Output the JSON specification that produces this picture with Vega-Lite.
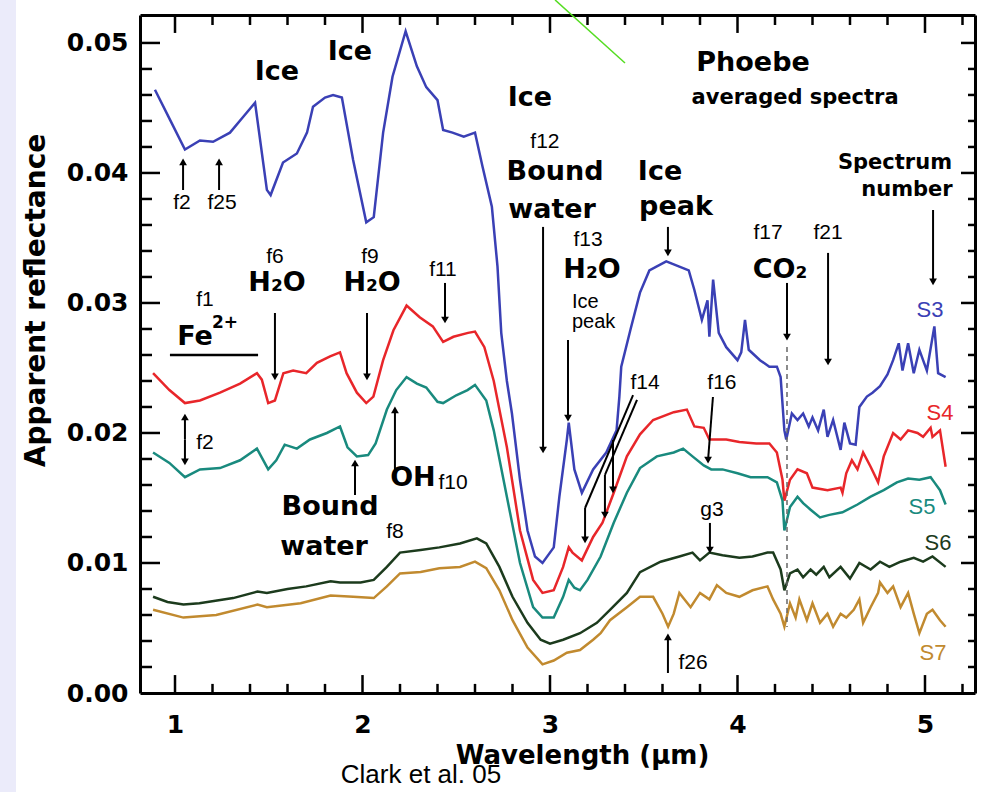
{
"$schema": "https://vega.github.io/schema/vega-lite/v6.json",
"width": 835, "height": 678,
"autosize": "none",
"padding": {"left": 140, "top": 15, "right": 6, "bottom": 99},
"background": "white",
"config": {"view": {"stroke": null}, "axis": {"grid": false, "domainColor": "black", "tickColor": "black", "labelColor": "black", "titleColor": "black", "domainWidth": 3}},
"datasets": {
"spec": [
{"s":"S3","w":0.893,"r":0.0464},{"s":"S3","w":0.973,"r":0.0441},{"s":"S3","w":1.053,"r":0.0418},{"s":"S3","w":1.133,"r":0.0425},{"s":"S3","w":1.203,"r":0.0424},{"s":"S3","w":1.293,"r":0.0431},{"s":"S3","w":1.363,"r":0.0443},{"s":"S3","w":1.427,"r":0.0454},{"s":"S3","w":1.49,"r":0.0387},{"s":"S3","w":1.51,"r":0.0383},{"s":"S3","w":1.576,"r":0.0408},{"s":"S3","w":1.65,"r":0.0415},{"s":"S3","w":1.704,"r":0.0431},{"s":"S3","w":1.736,"r":0.0451},{"s":"S3","w":1.8,"r":0.0458},{"s":"S3","w":1.843,"r":0.046},{"s":"S3","w":1.89,"r":0.0458},{"s":"S3","w":1.95,"r":0.041},{"s":"S3","w":2.02,"r":0.0362},{"s":"S3","w":2.06,"r":0.0366},{"s":"S3","w":2.11,"r":0.0431},{"s":"S3","w":2.16,"r":0.0474},{"s":"S3","w":2.23,"r":0.0509},{"s":"S3","w":2.29,"r":0.0482},{"s":"S3","w":2.34,"r":0.0466},{"s":"S3","w":2.4,"r":0.0456},{"s":"S3","w":2.43,"r":0.0433},{"s":"S3","w":2.48,"r":0.0431},{"s":"S3","w":2.54,"r":0.0428},{"s":"S3","w":2.6,"r":0.0431},{"s":"S3","w":2.64,"r":0.0405},{"s":"S3","w":2.69,"r":0.0374},{"s":"S3","w":2.72,"r":0.0328},{"s":"S3","w":2.74,"r":0.0277},{"s":"S3","w":2.77,"r":0.024},{"s":"S3","w":2.797,"r":0.0215},{"s":"S3","w":2.84,"r":0.0164},{"s":"S3","w":2.88,"r":0.0125},{"s":"S3","w":2.92,"r":0.0105},{"s":"S3","w":2.96,"r":0.01},{"s":"S3","w":3.02,"r":0.0112},{"s":"S3","w":3.05,"r":0.0151},{"s":"S3","w":3.09,"r":0.0195},{"s":"S3","w":3.1,"r":0.0208},{"s":"S3","w":3.13,"r":0.0172},{"s":"S3","w":3.17,"r":0.0154},{"s":"S3","w":3.23,"r":0.0172},{"s":"S3","w":3.3,"r":0.0185},{"s":"S3","w":3.355,"r":0.0202},{"s":"S3","w":3.37,"r":0.0228},{"s":"S3","w":3.38,"r":0.0251},{"s":"S3","w":3.43,"r":0.028},{"s":"S3","w":3.48,"r":0.0308},{"s":"S3","w":3.53,"r":0.0325},{"s":"S3","w":3.62,"r":0.0332},{"s":"S3","w":3.69,"r":0.0328},{"s":"S3","w":3.74,"r":0.0325},{"s":"S3","w":3.77,"r":0.031},{"s":"S3","w":3.81,"r":0.0287},{"s":"S3","w":3.84,"r":0.0302},{"s":"S3","w":3.85,"r":0.0274},{"s":"S3","w":3.87,"r":0.0318},{"s":"S3","w":3.9,"r":0.0277},{"s":"S3","w":3.94,"r":0.0266},{"s":"S3","w":4.0,"r":0.0256},{"s":"S3","w":4.02,"r":0.0262},{"s":"S3","w":4.04,"r":0.0287},{"s":"S3","w":4.06,"r":0.0264},{"s":"S3","w":4.12,"r":0.0256},{"s":"S3","w":4.17,"r":0.0251},{"s":"S3","w":4.21,"r":0.0251},{"s":"S3","w":4.23,"r":0.0243},{"s":"S3","w":4.25,"r":0.0202},{"s":"S3","w":4.26,"r":0.0195},{"s":"S3","w":4.29,"r":0.0215},{"s":"S3","w":4.32,"r":0.021},{"s":"S3","w":4.35,"r":0.0215},{"s":"S3","w":4.38,"r":0.0205},{"s":"S3","w":4.4,"r":0.0212},{"s":"S3","w":4.43,"r":0.0202},{"s":"S3","w":4.46,"r":0.0218},{"s":"S3","w":4.48,"r":0.0197},{"s":"S3","w":4.51,"r":0.021},{"s":"S3","w":4.55,"r":0.0187},{"s":"S3","w":4.57,"r":0.0208},{"s":"S3","w":4.6,"r":0.0192},{"s":"S3","w":4.63,"r":0.0191},{"s":"S3","w":4.65,"r":0.022},{"s":"S3","w":4.69,"r":0.0228},{"s":"S3","w":4.72,"r":0.0231},{"s":"S3","w":4.76,"r":0.0236},{"s":"S3","w":4.8,"r":0.0245},{"s":"S3","w":4.83,"r":0.0256},{"s":"S3","w":4.86,"r":0.0269},{"s":"S3","w":4.88,"r":0.0248},{"s":"S3","w":4.91,"r":0.0269},{"s":"S3","w":4.94,"r":0.0246},{"s":"S3","w":4.97,"r":0.0264},{"s":"S3","w":5.01,"r":0.0248},{"s":"S3","w":5.05,"r":0.0282},{"s":"S3","w":5.07,"r":0.0246},{"s":"S3","w":5.11,"r":0.0243},
{"s":"S4","w":0.883,"r":0.0246},{"s":"S4","w":0.97,"r":0.0233},{"s":"S4","w":1.053,"r":0.0223},{"s":"S4","w":1.133,"r":0.0225},{"s":"S4","w":1.24,"r":0.0231},{"s":"S4","w":1.347,"r":0.0238},{"s":"S4","w":1.437,"r":0.0246},{"s":"S4","w":1.463,"r":0.0241},{"s":"S4","w":1.497,"r":0.0223},{"s":"S4","w":1.533,"r":0.0225},{"s":"S4","w":1.578,"r":0.0246},{"s":"S4","w":1.63,"r":0.0248},{"s":"S4","w":1.7,"r":0.0246},{"s":"S4","w":1.757,"r":0.0254},{"s":"S4","w":1.827,"r":0.0259},{"s":"S4","w":1.88,"r":0.0262},{"s":"S4","w":1.915,"r":0.0246},{"s":"S4","w":1.97,"r":0.0231},{"s":"S4","w":2.02,"r":0.0223},{"s":"S4","w":2.058,"r":0.0228},{"s":"S4","w":2.11,"r":0.0256},{"s":"S4","w":2.165,"r":0.0279},{"s":"S4","w":2.235,"r":0.0298},{"s":"S4","w":2.305,"r":0.0289},{"s":"S4","w":2.375,"r":0.0282},{"s":"S4","w":2.43,"r":0.027},{"s":"S4","w":2.485,"r":0.0274},{"s":"S4","w":2.563,"r":0.0277},{"s":"S4","w":2.6,"r":0.0278},{"s":"S4","w":2.65,"r":0.0266},{"s":"S4","w":2.7,"r":0.024},{"s":"S4","w":2.77,"r":0.0189},{"s":"S4","w":2.84,"r":0.0125},{"s":"S4","w":2.91,"r":0.0087},{"s":"S4","w":2.96,"r":0.0077},{"s":"S4","w":3.02,"r":0.0079},{"s":"S4","w":3.07,"r":0.0097},{"s":"S4","w":3.1,"r":0.0112},{"s":"S4","w":3.12,"r":0.0108},{"s":"S4","w":3.17,"r":0.0102},{"s":"S4","w":3.23,"r":0.012},{"s":"S4","w":3.28,"r":0.0131},{"s":"S4","w":3.34,"r":0.0154},{"s":"S4","w":3.41,"r":0.0182},{"s":"S4","w":3.48,"r":0.0199},{"s":"S4","w":3.55,"r":0.021},{"s":"S4","w":3.66,"r":0.0216},{"s":"S4","w":3.73,"r":0.0218},{"s":"S4","w":3.77,"r":0.0205},{"s":"S4","w":3.82,"r":0.0204},{"s":"S4","w":3.85,"r":0.0195},{"s":"S4","w":3.94,"r":0.0195},{"s":"S4","w":4.01,"r":0.0193},{"s":"S4","w":4.1,"r":0.0192},{"s":"S4","w":4.17,"r":0.0192},{"s":"S4","w":4.21,"r":0.0185},{"s":"S4","w":4.24,"r":0.0164},{"s":"S4","w":4.25,"r":0.0148},{"s":"S4","w":4.28,"r":0.0164},{"s":"S4","w":4.32,"r":0.0172},{"s":"S4","w":4.37,"r":0.0169},{"s":"S4","w":4.4,"r":0.0158},{"s":"S4","w":4.48,"r":0.0156},{"s":"S4","w":4.55,"r":0.0158},{"s":"S4","w":4.56,"r":0.0154},{"s":"S4","w":4.58,"r":0.0169},{"s":"S4","w":4.61,"r":0.0179},{"s":"S4","w":4.64,"r":0.0172},{"s":"S4","w":4.67,"r":0.0185},{"s":"S4","w":4.71,"r":0.0174},{"s":"S4","w":4.75,"r":0.0162},{"s":"S4","w":4.78,"r":0.0182},{"s":"S4","w":4.83,"r":0.02},{"s":"S4","w":4.87,"r":0.0195},{"s":"S4","w":4.91,"r":0.0202},{"s":"S4","w":4.96,"r":0.02},{"s":"S4","w":4.99,"r":0.0197},{"s":"S4","w":5.03,"r":0.0204},{"s":"S4","w":5.04,"r":0.0197},{"s":"S4","w":5.08,"r":0.0202},{"s":"S4","w":5.11,"r":0.0174},
{"s":"S5","w":0.883,"r":0.0185},{"s":"S5","w":0.97,"r":0.0177},{"s":"S5","w":1.053,"r":0.0166},{"s":"S5","w":1.133,"r":0.0172},{"s":"S5","w":1.24,"r":0.0173},{"s":"S5","w":1.347,"r":0.0179},{"s":"S5","w":1.437,"r":0.0188},{"s":"S5","w":1.497,"r":0.0172},{"s":"S5","w":1.54,"r":0.0179},{"s":"S5","w":1.585,"r":0.0191},{"s":"S5","w":1.65,"r":0.0188},{"s":"S5","w":1.72,"r":0.0195},{"s":"S5","w":1.81,"r":0.02},{"s":"S5","w":1.88,"r":0.0205},{"s":"S5","w":1.92,"r":0.0189},{"s":"S5","w":1.97,"r":0.0182},{"s":"S5","w":2.03,"r":0.0183},{"s":"S5","w":2.07,"r":0.0192},{"s":"S5","w":2.13,"r":0.0218},{"s":"S5","w":2.18,"r":0.0233},{"s":"S5","w":2.235,"r":0.0243},{"s":"S5","w":2.29,"r":0.0238},{"s":"S5","w":2.34,"r":0.0235},{"s":"S5","w":2.4,"r":0.0224},{"s":"S5","w":2.43,"r":0.0223},{"s":"S5","w":2.5,"r":0.0229},{"s":"S5","w":2.56,"r":0.0233},{"s":"S5","w":2.6,"r":0.0237},{"s":"S5","w":2.66,"r":0.0225},{"s":"S5","w":2.7,"r":0.0202},{"s":"S5","w":2.77,"r":0.0151},{"s":"S5","w":2.84,"r":0.01},{"s":"S5","w":2.91,"r":0.0066},{"s":"S5","w":2.96,"r":0.0058},{"s":"S5","w":3.02,"r":0.0058},{"s":"S5","w":3.07,"r":0.0074},{"s":"S5","w":3.1,"r":0.0087},{"s":"S5","w":3.13,"r":0.0081},{"s":"S5","w":3.16,"r":0.0079},{"s":"S5","w":3.2,"r":0.0087},{"s":"S5","w":3.27,"r":0.0105},{"s":"S5","w":3.34,"r":0.0131},{"s":"S5","w":3.41,"r":0.0154},{"s":"S5","w":3.48,"r":0.0173},{"s":"S5","w":3.57,"r":0.0182},{"s":"S5","w":3.66,"r":0.0185},{"s":"S5","w":3.71,"r":0.0188},{"s":"S5","w":3.76,"r":0.0182},{"s":"S5","w":3.82,"r":0.0175},{"s":"S5","w":3.86,"r":0.0172},{"s":"S5","w":3.92,"r":0.0172},{"s":"S5","w":4.0,"r":0.0169},{"s":"S5","w":4.07,"r":0.0166},{"s":"S5","w":4.16,"r":0.0166},{"s":"S5","w":4.21,"r":0.0162},{"s":"S5","w":4.24,"r":0.0148},{"s":"S5","w":4.25,"r":0.0125},{"s":"S5","w":4.28,"r":0.0143},{"s":"S5","w":4.32,"r":0.0151},{"s":"S5","w":4.35,"r":0.0146},{"s":"S5","w":4.39,"r":0.0141},{"s":"S5","w":4.44,"r":0.0135},{"s":"S5","w":4.49,"r":0.0137},{"s":"S5","w":4.56,"r":0.0139},{"s":"S5","w":4.64,"r":0.0145},{"s":"S5","w":4.71,"r":0.0151},{"s":"S5","w":4.78,"r":0.0156},{"s":"S5","w":4.85,"r":0.0162},{"s":"S5","w":4.91,"r":0.0165},{"s":"S5","w":4.97,"r":0.0164},{"s":"S5","w":5.03,"r":0.0166},{"s":"S5","w":5.05,"r":0.0162},{"s":"S5","w":5.08,"r":0.0156},{"s":"S5","w":5.11,"r":0.0145},
{"s":"S6","w":0.883,"r":0.0074},{"s":"S6","w":0.96,"r":0.007},{"s":"S6","w":1.045,"r":0.0068},{"s":"S6","w":1.13,"r":0.0069},{"s":"S6","w":1.31,"r":0.0073},{"s":"S6","w":1.44,"r":0.0078},{"s":"S6","w":1.49,"r":0.0077},{"s":"S6","w":1.6,"r":0.008},{"s":"S6","w":1.7,"r":0.0082},{"s":"S6","w":1.83,"r":0.0086},{"s":"S6","w":1.88,"r":0.0085},{"s":"S6","w":1.99,"r":0.0085},{"s":"S6","w":2.06,"r":0.0087},{"s":"S6","w":2.13,"r":0.0097},{"s":"S6","w":2.2,"r":0.0108},{"s":"S6","w":2.31,"r":0.011},{"s":"S6","w":2.41,"r":0.0112},{"s":"S6","w":2.52,"r":0.0115},{"s":"S6","w":2.61,"r":0.0119},{"s":"S6","w":2.66,"r":0.0115},{"s":"S6","w":2.73,"r":0.0097},{"s":"S6","w":2.8,"r":0.0074},{"s":"S6","w":2.88,"r":0.0054},{"s":"S6","w":2.95,"r":0.0041},{"s":"S6","w":3.0,"r":0.0038},{"s":"S6","w":3.07,"r":0.0041},{"s":"S6","w":3.16,"r":0.0046},{"s":"S6","w":3.25,"r":0.0054},{"s":"S6","w":3.32,"r":0.0064},{"s":"S6","w":3.41,"r":0.0077},{"s":"S6","w":3.48,"r":0.0093},{"s":"S6","w":3.59,"r":0.0101},{"s":"S6","w":3.69,"r":0.0105},{"s":"S6","w":3.76,"r":0.0108},{"s":"S6","w":3.8,"r":0.0102},{"s":"S6","w":3.85,"r":0.0108},{"s":"S6","w":3.92,"r":0.0106},{"s":"S6","w":4.01,"r":0.0104},{"s":"S6","w":4.08,"r":0.0105},{"s":"S6","w":4.16,"r":0.0108},{"s":"S6","w":4.19,"r":0.0108},{"s":"S6","w":4.23,"r":0.0095},{"s":"S6","w":4.25,"r":0.0079},{"s":"S6","w":4.28,"r":0.0092},{"s":"S6","w":4.32,"r":0.0095},{"s":"S6","w":4.35,"r":0.0089},{"s":"S6","w":4.39,"r":0.0095},{"s":"S6","w":4.42,"r":0.0091},{"s":"S6","w":4.46,"r":0.0097},{"s":"S6","w":4.49,"r":0.0089},{"s":"S6","w":4.55,"r":0.0097},{"s":"S6","w":4.6,"r":0.0088},{"s":"S6","w":4.65,"r":0.01},{"s":"S6","w":4.71,"r":0.0095},{"s":"S6","w":4.76,"r":0.0101},{"s":"S6","w":4.81,"r":0.0097},{"s":"S6","w":4.87,"r":0.0101},{"s":"S6","w":4.94,"r":0.0104},{"s":"S6","w":4.99,"r":0.0101},{"s":"S6","w":5.04,"r":0.0105},{"s":"S6","w":5.11,"r":0.0097},
{"s":"S7","w":0.883,"r":0.0064},{"s":"S7","w":1.045,"r":0.0058},{"s":"S7","w":1.22,"r":0.006},{"s":"S7","w":1.44,"r":0.0068},{"s":"S7","w":1.49,"r":0.0066},{"s":"S7","w":1.67,"r":0.0069},{"s":"S7","w":1.83,"r":0.0075},{"s":"S7","w":1.95,"r":0.0074},{"s":"S7","w":2.06,"r":0.0073},{"s":"S7","w":2.13,"r":0.0082},{"s":"S7","w":2.2,"r":0.0092},{"s":"S7","w":2.31,"r":0.0093},{"s":"S7","w":2.41,"r":0.0096},{"s":"S7","w":2.52,"r":0.0097},{"s":"S7","w":2.6,"r":0.0101},{"s":"S7","w":2.66,"r":0.0096},{"s":"S7","w":2.73,"r":0.0079},{"s":"S7","w":2.8,"r":0.0056},{"s":"S7","w":2.88,"r":0.0035},{"s":"S7","w":2.96,"r":0.0022},{"s":"S7","w":3.02,"r":0.0025},{"s":"S7","w":3.09,"r":0.0031},{"s":"S7","w":3.16,"r":0.0033},{"s":"S7","w":3.23,"r":0.0041},{"s":"S7","w":3.27,"r":0.0046},{"s":"S7","w":3.32,"r":0.0056},{"s":"S7","w":3.41,"r":0.0066},{"s":"S7","w":3.48,"r":0.0074},{"s":"S7","w":3.55,"r":0.0074},{"s":"S7","w":3.6,"r":0.0061},{"s":"S7","w":3.63,"r":0.0051},{"s":"S7","w":3.66,"r":0.0061},{"s":"S7","w":3.69,"r":0.0077},{"s":"S7","w":3.75,"r":0.0066},{"s":"S7","w":3.8,"r":0.0077},{"s":"S7","w":3.85,"r":0.0072},{"s":"S7","w":3.89,"r":0.0083},{"s":"S7","w":3.94,"r":0.0077},{"s":"S7","w":4.01,"r":0.0074},{"s":"S7","w":4.08,"r":0.0079},{"s":"S7","w":4.16,"r":0.0082},{"s":"S7","w":4.19,"r":0.0072},{"s":"S7","w":4.23,"r":0.0061},{"s":"S7","w":4.25,"r":0.0051},{"s":"S7","w":4.28,"r":0.0069},{"s":"S7","w":4.31,"r":0.0058},{"s":"S7","w":4.33,"r":0.0072},{"s":"S7","w":4.37,"r":0.0056},{"s":"S7","w":4.4,"r":0.0069},{"s":"S7","w":4.44,"r":0.0054},{"s":"S7","w":4.48,"r":0.0061},{"s":"S7","w":4.51,"r":0.0051},{"s":"S7","w":4.55,"r":0.0061},{"s":"S7","w":4.58,"r":0.0058},{"s":"S7","w":4.62,"r":0.0064},{"s":"S7","w":4.65,"r":0.0072},{"s":"S7","w":4.67,"r":0.0054},{"s":"S7","w":4.71,"r":0.0066},{"s":"S7","w":4.75,"r":0.0077},{"s":"S7","w":4.76,"r":0.0085},{"s":"S7","w":4.8,"r":0.0077},{"s":"S7","w":4.83,"r":0.0082},{"s":"S7","w":4.87,"r":0.0066},{"s":"S7","w":4.91,"r":0.0077},{"s":"S7","w":4.94,"r":0.0061},{"s":"S7","w":4.97,"r":0.0046},{"s":"S7","w":5.01,"r":0.0061},{"s":"S7","w":5.04,"r":0.0064},{"s":"S7","w":5.08,"r":0.0056},{"s":"S7","w":5.11,"r":0.0051}
],
"ticks": [
{"x":1,"y":0,"x2":1,"y2":0.00138},{"x":2,"y":0,"x2":2,"y2":0.00138},{"x":3,"y":0,"x2":3,"y2":0.00138},{"x":4,"y":0,"x2":4,"y2":0.00138},{"x":5,"y":0,"x2":5,"y2":0.00138},
{"x":1.2,"y":0,"x2":1.2,"y2":0.0007},{"x":1.4,"y":0,"x2":1.4,"y2":0.0007},{"x":1.6,"y":0,"x2":1.6,"y2":0.0007},{"x":1.8,"y":0,"x2":1.8,"y2":0.0007},{"x":2.2,"y":0,"x2":2.2,"y2":0.0007},{"x":2.4,"y":0,"x2":2.4,"y2":0.0007},{"x":2.6,"y":0,"x2":2.6,"y2":0.0007},{"x":2.8,"y":0,"x2":2.8,"y2":0.0007},{"x":3.2,"y":0,"x2":3.2,"y2":0.0007},{"x":3.4,"y":0,"x2":3.4,"y2":0.0007},{"x":3.6,"y":0,"x2":3.6,"y2":0.0007},{"x":3.8,"y":0,"x2":3.8,"y2":0.0007},{"x":4.2,"y":0,"x2":4.2,"y2":0.0007},{"x":4.4,"y":0,"x2":4.4,"y2":0.0007},{"x":4.6,"y":0,"x2":4.6,"y2":0.0007},{"x":4.8,"y":0,"x2":4.8,"y2":0.0007},{"x":5.2,"y":0,"x2":5.2,"y2":0.0007},
{"x":1,"y":0.05215,"x2":1,"y2":0.05077},{"x":2,"y":0.05215,"x2":2,"y2":0.05077},{"x":3,"y":0.05215,"x2":3,"y2":0.05077},{"x":4,"y":0.05215,"x2":4,"y2":0.05077},{"x":5,"y":0.05215,"x2":5,"y2":0.05077},
{"x":1.2,"y":0.05215,"x2":1.2,"y2":0.05138},{"x":1.4,"y":0.05215,"x2":1.4,"y2":0.05138},{"x":1.6,"y":0.05215,"x2":1.6,"y2":0.05138},{"x":1.8,"y":0.05215,"x2":1.8,"y2":0.05138},{"x":2.2,"y":0.05215,"x2":2.2,"y2":0.05138},{"x":2.4,"y":0.05215,"x2":2.4,"y2":0.05138},{"x":2.6,"y":0.05215,"x2":2.6,"y2":0.05138},{"x":2.8,"y":0.05215,"x2":2.8,"y2":0.05138},{"x":3.2,"y":0.05215,"x2":3.2,"y2":0.05138},{"x":3.4,"y":0.05215,"x2":3.4,"y2":0.05138},{"x":3.6,"y":0.05215,"x2":3.6,"y2":0.05138},{"x":3.8,"y":0.05215,"x2":3.8,"y2":0.05138},{"x":4.2,"y":0.05215,"x2":4.2,"y2":0.05138},{"x":4.4,"y":0.05215,"x2":4.4,"y2":0.05138},{"x":4.6,"y":0.05215,"x2":4.6,"y2":0.05138},{"x":4.8,"y":0.05215,"x2":4.8,"y2":0.05138},{"x":5.2,"y":0.05215,"x2":5.2,"y2":0.05138},
{"x":0.8133,"y":0.01,"x2":0.92,"y2":0.01},{"x":0.8133,"y":0.02,"x2":0.92,"y2":0.02},{"x":0.8133,"y":0.03,"x2":0.92,"y2":0.03},{"x":0.8133,"y":0.04,"x2":0.92,"y2":0.04},{"x":0.8133,"y":0.05,"x2":0.92,"y2":0.05},
{"x":0.8133,"y":0.002,"x2":0.8773,"y2":0.002},{"x":0.8133,"y":0.004,"x2":0.8773,"y2":0.004},{"x":0.8133,"y":0.006,"x2":0.8773,"y2":0.006},{"x":0.8133,"y":0.008,"x2":0.8773,"y2":0.008},{"x":0.8133,"y":0.012,"x2":0.8773,"y2":0.012},{"x":0.8133,"y":0.014,"x2":0.8773,"y2":0.014},{"x":0.8133,"y":0.016,"x2":0.8773,"y2":0.016},{"x":0.8133,"y":0.018,"x2":0.8773,"y2":0.018},{"x":0.8133,"y":0.022,"x2":0.8773,"y2":0.022},{"x":0.8133,"y":0.024,"x2":0.8773,"y2":0.024},{"x":0.8133,"y":0.026,"x2":0.8773,"y2":0.026},{"x":0.8133,"y":0.028,"x2":0.8773,"y2":0.028},{"x":0.8133,"y":0.032,"x2":0.8773,"y2":0.032},{"x":0.8133,"y":0.034,"x2":0.8773,"y2":0.034},{"x":0.8133,"y":0.036,"x2":0.8773,"y2":0.036},{"x":0.8133,"y":0.038,"x2":0.8773,"y2":0.038},{"x":0.8133,"y":0.042,"x2":0.8773,"y2":0.042},{"x":0.8133,"y":0.044,"x2":0.8773,"y2":0.044},{"x":0.8133,"y":0.046,"x2":0.8773,"y2":0.046},{"x":0.8133,"y":0.048,"x2":0.8773,"y2":0.048},
{"x":5.2667,"y":0.01,"x2":5.192,"y2":0.01},{"x":5.2667,"y":0.02,"x2":5.192,"y2":0.02},{"x":5.2667,"y":0.03,"x2":5.192,"y2":0.03},{"x":5.2667,"y":0.04,"x2":5.192,"y2":0.04},{"x":5.2667,"y":0.05,"x2":5.192,"y2":0.05},
{"x":5.2667,"y":0.002,"x2":5.2294,"y2":0.002},{"x":5.2667,"y":0.004,"x2":5.2294,"y2":0.004},{"x":5.2667,"y":0.006,"x2":5.2294,"y2":0.006},{"x":5.2667,"y":0.008,"x2":5.2294,"y2":0.008},{"x":5.2667,"y":0.012,"x2":5.2294,"y2":0.012},{"x":5.2667,"y":0.014,"x2":5.2294,"y2":0.014},{"x":5.2667,"y":0.016,"x2":5.2294,"y2":0.016},{"x":5.2667,"y":0.018,"x2":5.2294,"y2":0.018},{"x":5.2667,"y":0.022,"x2":5.2294,"y2":0.022},{"x":5.2667,"y":0.024,"x2":5.2294,"y2":0.024},{"x":5.2667,"y":0.026,"x2":5.2294,"y2":0.026},{"x":5.2667,"y":0.028,"x2":5.2294,"y2":0.028},{"x":5.2667,"y":0.032,"x2":5.2294,"y2":0.032},{"x":5.2667,"y":0.034,"x2":5.2294,"y2":0.034},{"x":5.2667,"y":0.036,"x2":5.2294,"y2":0.036},{"x":5.2667,"y":0.038,"x2":5.2294,"y2":0.038},{"x":5.2667,"y":0.042,"x2":5.2294,"y2":0.042},{"x":5.2667,"y":0.044,"x2":5.2294,"y2":0.044},{"x":5.2667,"y":0.046,"x2":5.2294,"y2":0.046},{"x":5.2667,"y":0.048,"x2":5.2294,"y2":0.048}
],
"big": [
{"t":"Ice","x":1.544,"y":0.04777},{"t":"Ice","x":1.933,"y":0.04931},{"t":"Ice","x":2.893,"y":0.04577},
{"t":"Bound","x":3.027,"y":0.04008},{"t":"water","x":3.011,"y":0.03715},{"t":"H₂O","x":3.224,"y":0.03254},
{"t":"Ice","x":3.587,"y":0.04008},{"t":"peak","x":3.672,"y":0.03738},{"t":"Phoebe","x":4.083,"y":0.04846},
{"t":"CO₂","x":4.227,"y":0.03254},{"t":"H₂O","x":1.544,"y":0.03154},{"t":"H₂O","x":2.051,"y":0.03154},
{"t":"Fe","x":1.107,"y":0.02738},{"t":"Bound","x":1.827,"y":0.01431},{"t":"water","x":1.795,"y":0.01123},{"t":"OH","x":2.269,"y":0.01654}
],
"mid": [
{"t":"averaged spectra","x":4.307,"y":0.04577},{"t":"Spectrum","x":4.84,"y":0.04077},{"t":"number","x":4.904,"y":0.03869}
],
"sup": [{"t":"2+","x":1.267,"y":0.02846}],
"small": [
{"t":"f2","x":1.037,"y":0.03769},{"t":"f25","x":1.251,"y":0.03769},{"t":"f12","x":2.973,"y":0.04238},{"t":"f13","x":3.203,"y":0.03485},
{"t":"f6","x":1.533,"y":0.03354},{"t":"f1","x":1.16,"y":0.03023},
{"t":"f9","x":2.04,"y":0.03354},{"t":"f11","x":2.429,"y":0.03254},{"t":"f2","x":1.16,"y":0.01923},{"t":"f8","x":2.173,"y":0.01238},
{"t":"f10","x":2.483,"y":0.01615},{"t":"f14","x":3.507,"y":0.02385},{"t":"f16","x":3.917,"y":0.02385},{"t":"f17","x":4.163,"y":0.03538},
{"t":"f21","x":4.483,"y":0.03538},{"t":"g3","x":3.864,"y":0.01408},{"t":"f26","x":3.763,"y":0.00231}
],
"note": [{"t":["Ice","peak"],"x":3.117,"y":0.03085}],
"lbl": [
{"t":"S3","s":"S3","x":5.027,"y":0.02946},{"t":"S4","s":"S4","x":5.08,"y":0.02154},{"t":"S5","s":"S5","x":4.984,"y":0.01431},
{"t":"S6","s":"S6","x":5.069,"y":0.01154},{"t":"S7","s":"S7","x":5.043,"y":0.00308}
],
"arrows": [
{"x":1.043,"y":0.03869,"x2":1.043,"y2":0.04085,"d":"up"},
{"x":1.235,"y":0.03869,"x2":1.235,"y2":0.04085,"d":"up"},
{"x":2.963,"y":0.03585,"x2":2.963,"y2":0.01869,"d":"down"},
{"x":3.096,"y":0.02715,"x2":3.096,"y2":0.02115,"d":"down"},
{"x":3.629,"y":0.03585,"x2":3.629,"y2":0.03385,"d":"down"},
{"x":5.043,"y":0.03715,"x2":5.043,"y2":0.03162,"d":"down"},
{"x":4.264,"y":0.03154,"x2":4.264,"y2":0.02738,"d":"down"},
{"x":4.483,"y":0.03385,"x2":4.483,"y2":0.02546,"d":"down"},
{"x":3.869,"y":0.02277,"x2":3.843,"y2":0.01792,"d":"down"},
{"x":1.533,"y":0.02923,"x2":1.533,"y2":0.02431,"d":"down"},
{"x":2.024,"y":0.02923,"x2":2.024,"y2":0.02431,"d":"down"},
{"x":2.44,"y":0.03154,"x2":2.44,"y2":0.02869,"d":"down"},
{"x":1.96,"y":0.01523,"x2":1.96,"y2":0.01769,"d":"up"},
{"x":2.173,"y":0.01715,"x2":2.173,"y2":0.02177,"d":"up"},
{"x":1.053,"y":0.0195,"x2":1.053,"y2":0.02123,"d":"up"},
{"x":1.053,"y":0.0195,"x2":1.053,"y2":0.01777,"d":"down"},
{"x":3.853,"y":0.01308,"x2":3.853,"y2":0.011,"d":"down"},
{"x":3.629,"y":0.00154,"x2":3.629,"y2":0.00431,"d":"up"},
{"x":3.443,"y":0.02292,"x2":3.187,"y2":0.01423,"d":"none"},
{"x":3.187,"y":0.01423,"x2":3.187,"y2":0.01177,"d":"down"},
{"x":3.464,"y":0.02254,"x2":3.293,"y2":0.01677,"d":"none"},
{"x":3.293,"y":0.01677,"x2":3.293,"y2":0.01369,"d":"down"},
{"x":3.336,"y":0.01946,"x2":3.336,"y2":0.01562,"d":"down"}
],
"seg": [
{"k":"underline","x":0.973,"y":0.026,"x2":1.443,"y2":0.026},
{"k":"co2","x":4.264,"y":0.02662,"x2":4.264,"y2":0.00508},
{"k":"glitch","x":3.027,"y":0.05331,"x2":3.4,"y2":0.04846}
],
"strip": [{"x":0.0,"x2":0.152,"y":-0.01,"y2":0.056}],
"credit": [{"t":"Clark et al. 05","x":2.312,"y":-0.00692}]
},
"layer": [
{"data": {"name": "strip"}, "mark": {"type": "rect", "color": "#ebebfa"},
 "encoding": {"x": {"field": "x", "type": "quantitative", "scale": {"domain": [0.8133, 5.2667], "nice": false, "zero": false}, "axis": null}, "x2": {"field": "x2"},
  "y": {"field": "y", "type": "quantitative", "scale": {"domain": [0, 0.05215], "nice": false, "zero": false}, "axis": null}, "y2": {"field": "y2"}}},
{"data": {"name": "spec"}, "mark": {"type": "line", "strokeWidth": 2.5},
 "encoding": {
  "x": {"field": "w", "type": "quantitative", "scale": {"domain": [0.8133, 5.2667], "nice": false, "zero": false},
   "axis": {"orient": "bottom", "values": [1,2,3,4,5], "ticks": false, "format": "d",
    "labelPadding": 19, "labelFont": "DejaVu Sans", "labelFontWeight": "bold", "labelFontSize": 25, "labelFlush": false, "labelOverlap": false, "labelBound": false,
    "title": "Wavelength (µm)", "titleFont": "DejaVu Sans", "titleFontWeight": "bold", "titleFontSize": 26, "titleX": 442, "titleY": 70, "titleBaseline": "alphabetic", "titleAlign": "center"}},
  "y": {"field": "r", "type": "quantitative", "scale": {"domain": [0, 0.05215], "nice": false, "zero": false},
   "axis": {"orient": "left", "values": [0,0.01,0.02,0.03,0.04,0.05], "ticks": false, "format": ".2f",
    "labelPadding": 12, "labelFont": "DejaVu Sans", "labelFontWeight": "bold", "labelFontSize": 25, "labelFlush": false, "labelOverlap": false, "labelBound": false,
    "title": "Apparent reflectance", "titleFont": "DejaVu Sans", "titleFontWeight": "bold", "titleFontSize": 28, "titleX": -96, "titleY": 285, "titleAngle": 270, "titleBaseline": "alphabetic", "titleAlign": "center"}},
  "color": {"field": "s", "type": "nominal", "scale": {"domain": ["S3","S4","S5","S6","S7"], "range": ["#3a40b5","#e8262a","#198a7e","#1c3b1d","#c18a2f"]}, "legend": null}}},
{"data": {"name": "big"}, "mark": {"type": "text", "font": "DejaVu Sans", "fontWeight": "bold", "fontSize": 27, "align": "center", "baseline": "middle", "color": "black"},
 "encoding": {
  "x": {"field": "x", "type": "quantitative", "axis": {"orient": "top", "values": [1], "ticks": false, "labels": false, "title": null}},
  "y": {"field": "y", "type": "quantitative", "axis": {"orient": "right", "values": [0.01], "ticks": false, "labels": false, "title": null}},
  "text": {"field": "t"}}},
{"data": {"name": "mid"}, "mark": {"type": "text", "font": "DejaVu Sans", "fontWeight": "bold", "fontSize": 21, "align": "center", "baseline": "middle", "color": "black"},
 "encoding": {"x": {"field": "x", "type": "quantitative", "axis": null}, "y": {"field": "y", "type": "quantitative", "axis": null}, "text": {"field": "t"}}},
{"data": {"name": "sup"}, "mark": {"type": "text", "font": "DejaVu Sans", "fontWeight": "bold", "fontSize": 17, "align": "center", "baseline": "middle", "color": "black"},
 "encoding": {"x": {"field": "x", "type": "quantitative", "axis": null}, "y": {"field": "y", "type": "quantitative", "axis": null}, "text": {"field": "t"}}},
{"data": {"name": "small"}, "mark": {"type": "text", "font": "Liberation Sans", "fontSize": 21, "align": "center", "baseline": "middle", "color": "black"},
 "encoding": {"x": {"field": "x", "type": "quantitative", "axis": null}, "y": {"field": "y", "type": "quantitative", "axis": null}, "text": {"field": "t"}}},
{"data": {"name": "lbl"}, "mark": {"type": "text", "font": "Liberation Sans", "fontSize": 22, "align": "center", "baseline": "middle"},
 "encoding": {"x": {"field": "x", "type": "quantitative", "axis": null}, "y": {"field": "y", "type": "quantitative", "axis": null}, "text": {"field": "t"},
  "color": {"field": "s", "type": "nominal", "legend": null}}},
{"data": {"name": "note"}, "mark": {"type": "text", "font": "Liberation Sans", "fontSize": 20, "lineHeight": 20, "align": "left", "baseline": "top", "color": "black"},
 "encoding": {"x": {"field": "x", "type": "quantitative", "axis": null}, "y": {"field": "y", "type": "quantitative", "axis": null}, "text": {"field": "t"}}},
{"data": {"name": "arrows"}, "mark": {"type": "rule", "strokeWidth": 2, "color": "black"},
 "encoding": {"x": {"field": "x", "type": "quantitative", "axis": null}, "y": {"field": "y", "type": "quantitative", "axis": null}, "x2": {"field": "x2"}, "y2": {"field": "y2"}}},
{"data": {"name": "arrows"}, "transform": [{"filter": "datum.d !== 'none'"}], "mark": {"type": "point", "filled": true, "size": 60, "opacity": 1, "color": "black"},
 "encoding": {"x": {"field": "x2", "type": "quantitative", "axis": null}, "y": {"field": "y2", "type": "quantitative", "axis": null},
  "shape": {"field": "d", "type": "nominal", "scale": {"domain": ["down","up"], "range": ["triangle-down","triangle-up"]}, "legend": null}}},
{"data": {"name": "seg"}, "transform": [{"filter": "datum.k === 'underline'"}], "mark": {"type": "rule", "strokeWidth": 2.5, "color": "black"},
 "encoding": {"x": {"field": "x", "type": "quantitative", "axis": null}, "y": {"field": "y", "type": "quantitative", "axis": null}, "x2": {"field": "x2"}, "y2": {"field": "y2"}}},
{"data": {"name": "seg"}, "transform": [{"filter": "datum.k === 'co2'"}], "mark": {"type": "rule", "strokeWidth": 1.5, "color": "#666666", "strokeDash": [5,4]},
 "encoding": {"x": {"field": "x", "type": "quantitative", "axis": null}, "y": {"field": "y", "type": "quantitative", "axis": null}, "x2": {"field": "x2"}, "y2": {"field": "y2"}}},
{"data": {"name": "seg"}, "transform": [{"filter": "datum.k === 'glitch'"}], "mark": {"type": "rule", "strokeWidth": 1.5, "color": "#55dd22"},
 "encoding": {"x": {"field": "x", "type": "quantitative", "axis": null}, "y": {"field": "y", "type": "quantitative", "axis": null}, "x2": {"field": "x2"}, "y2": {"field": "y2"}}},
{"data": {"name": "credit"}, "mark": {"type": "text", "font": "Liberation Sans", "fontSize": 26, "align": "center", "baseline": "alphabetic", "color": "black"},
 "encoding": {"x": {"field": "x", "type": "quantitative", "axis": null}, "y": {"field": "y", "type": "quantitative", "axis": null}, "text": {"field": "t"}}},
{"data": {"name": "ticks"}, "mark": {"type": "rule", "strokeWidth": 2.5, "color": "black"},
 "encoding": {"x": {"field": "x", "type": "quantitative", "axis": null}, "y": {"field": "y", "type": "quantitative", "axis": null}, "x2": {"field": "x2"}, "y2": {"field": "y2"}}}
],
"resolve": {"axis": {"x": "independent", "y": "independent"}}
}
